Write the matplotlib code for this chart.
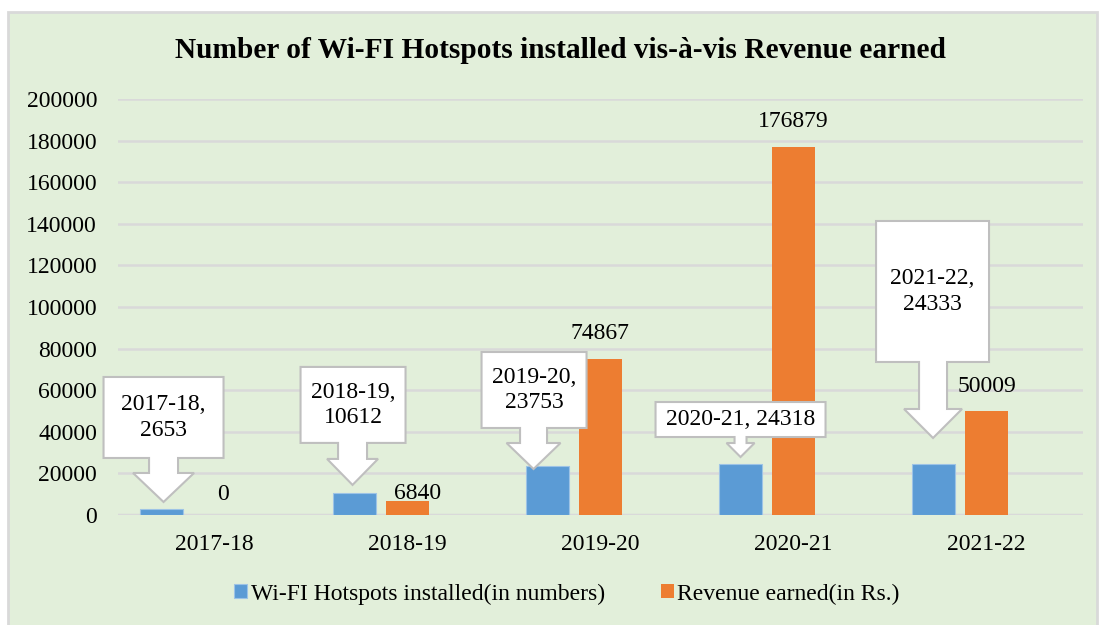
#!/usr/bin/env python3

import numpy as np
import matplotlib
matplotlib.use('Agg')
import matplotlib.pyplot as plt
import matplotlib.transforms as mtransforms
from matplotlib.patches import Polygon, Rectangle

## Data
years   = ['2017-18', '2018-19', '2019-20', '2020-21', '2021-22']
hotspots = [2653, 10612, 23753, 24318, 24333]
revenue  = [0, 6840, 74867, 176879, 50009]
series_names = ['Wi-FI Hotspots installed(in numbers)', 'Revenue earned(in Rs.)']
yticks = [0, 20000, 40000, 60000, 80000, 100000, 120000, 140000, 160000, 180000, 200000]

## Styles
blue   = '#5B9BD5'
orange = '#ED7D31'
panel  = '#E2EFDA'
grid   = '#D9D9D9'
edge   = '#BFBFBF'

plt.rcParams['font.family'] = ['Liberation Serif', 'DejaVu Serif']

## Callout geometry in pixels (at 100 dpi), relative to the arrow tip.
# (tip dx, tip above bar, box left, box right, box bottom, box top, head base, head half, shaft half)
callouts = [
    (2.5,   7.5, -60, 60, 44, 125, 29, 30.5, 14.5),
    (-1.5,  8.0, -52, 53, 42, 118, 26, 25.5, 14.5),
    (-13.5, -3.4, -52, 53, 41, 117, 26, 27.0, 13.5),
    (0.5,   7.4, -85, 85, 20, 55, 14, 14.0, 6.0),
    (0.0,  26.4, -57, 56, 76, 217, 29, 29.0, 14.0),
]
label_seps = [',\n', ',\n', ',\n', ', ', ',\n']
# orange label offsets (dx, above) in pixels
rev_offsets = [(8, 20), (10.5, 7), (-1, 26), (0, 26), (0, 24)]

fig = plt.figure(figsize=(11.01, 6.25), dpi=100)
fig.patch.set_facecolor('white')
fig.patches.append(Rectangle((8/1101, -0.01), 1089/1101, 1.01 - 12/625, transform=fig.transFigure,
                             facecolor=panel, edgecolor=grid, linewidth=2, zorder=-10))

ax = fig.add_axes([118/1101, 1 - 515/625, 965/1101, 416/625])
ax.set_facecolor('none')

x = np.arange(len(years))
w = 0.223
off = 0.277
ax.bar(x - off, hotspots, w, color=blue, edgecolor='#9DC3E6', linewidth=0.8, zorder=3,
       label=series_names[0])
ax.bar(x, revenue, w, color=orange, zorder=3, label=series_names[1])

ax.set_xlim(-0.5, 4.5)
ax.set_ylim(0, 200000)
ax.set_yticks(yticks)
ax.set_yticklabels([str(t) for t in yticks])
ax.set_xticks(x)
ax.set_xticklabels(years)
ax.tick_params(axis='both', length=0, labelsize=17)
ax.tick_params(axis='y', pad=15)
ax.tick_params(axis='x', pad=14)
ax.grid(axis='y', color=grid, linewidth=1.8, zorder=0)
for s in ax.spines.values():
    s.set_visible(False)
ax.axhline(0, color=grid, linewidth=2.5, zorder=2)

px = mtransforms.Affine2D().scale(fig.dpi / 100.)

# callouts on blue bars
for i, (tdx, tup, bl, br, bb, bt, hb, hh, sh) in enumerate(callouts):
    trans = px + mtransforms.ScaledTranslation(x[i] - off, hotspots[i], ax.transData)
    tx, ty = tdx, tup
    pts = [(tx + bl, ty + bt), (tx + br, ty + bt), (tx + br, ty + bb),
           (tx + sh, ty + bb), (tx + sh, ty + hb), (tx + hh, ty + hb),
           (tx, ty),
           (tx - hh, ty + hb), (tx - sh, ty + hb), (tx - sh, ty + bb),
           (tx + bl, ty + bb)]
    poly = Polygon(pts, closed=True, transform=trans, facecolor='white', edgecolor=edge,
                   linewidth=1.5, zorder=5, clip_on=False)
    ax.add_patch(poly)
    ax.text(tx + (bl + br) / 2, ty + (bb + bt) / 2, years[i] + label_seps[i] + str(hotspots[i]),
            transform=trans, ha='center', va='center', fontsize=17, linespacing=1.3,
            zorder=6, clip_on=False)

# labels on orange bars
for i, (dx, up) in enumerate(rev_offsets):
    trans = px + mtransforms.ScaledTranslation(x[i], revenue[i], ax.transData)
    ax.text(dx, up, str(revenue[i]), transform=trans, ha='center', va='center',
            fontsize=17, zorder=6)

fig.text(560/1101, 1 - 50/625, 'Number of Wi-FI Hotspots installed vis-à-vis Revenue earned',
         ha='center', va='center', fontsize=21.2, fontweight='bold')

fig.legend(loc='center', bbox_to_anchor=(567/1101, 1 - 594/625), ncol=2, frameon=False,
           fontsize=17, handlelength=0.55, handleheight=0.55, handletextpad=0.15,
           columnspacing=2.35)

fig.savefig('out.png', dpi=100, facecolor=fig.get_facecolor())
